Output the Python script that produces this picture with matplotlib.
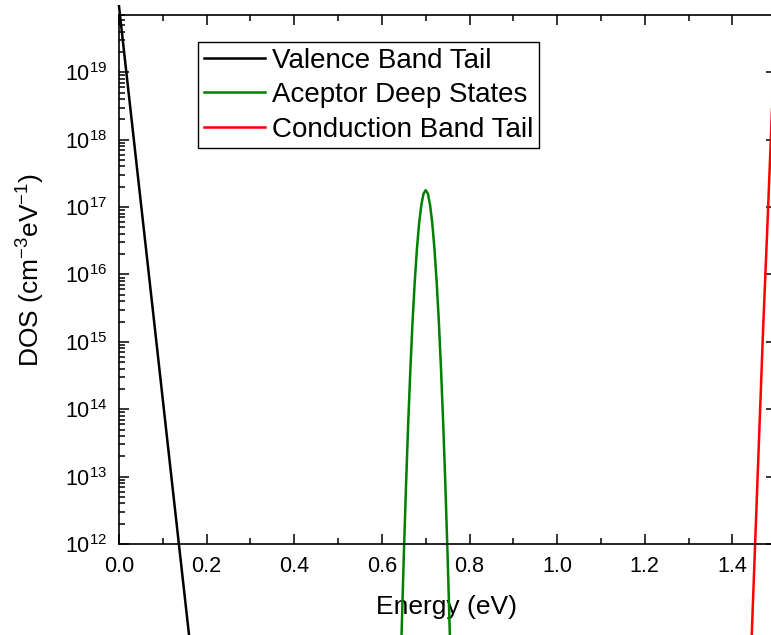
import matplotlib
matplotlib.use("Agg")
import matplotlib.pyplot as plt
from matplotlib.ticker import MultipleLocator, LogLocator, NullFormatter

plt.rcParams['font.family'] = ['Liberation Sans', 'DejaVu Sans']
plt.rcParams['mathtext.fontset'] = 'custom'
plt.rcParams['mathtext.rm'] = 'Liberation Sans'
plt.rcParams['mathtext.it'] = 'Liberation Sans:italic'
plt.rcParams['mathtext.bf'] = 'Liberation Sans:bold'

# ---- data ----
vb_energy = [0.00, 0.04, 0.08, 0.12, 0.16, 0.18]
vb_dos = [9.55e19, 4.37e17, 2.04e15, 9.33e12, 4.37e10, 2.95e9]

ad_energy = [0.640, 0.645, 0.650, 0.655, 0.660, 0.665, 0.670, 0.675, 0.680,
             0.685, 0.690, 0.695, 0.700, 0.705, 0.710, 0.715, 0.720, 0.725,
             0.730, 0.735, 0.740, 0.745, 0.750, 0.755, 0.760]
ad_dos = [2.69e9, 4.79e10, 6.61e11, 7.08e12, 6.03e13, 3.89e14, 2.00e15,
          7.76e15, 2.40e16, 5.75e16, 1.07e17, 1.58e17, 1.78e17, 1.58e17,
          1.07e17, 5.75e16, 2.40e16, 7.76e15, 2.00e15, 3.89e14, 6.03e13,
          7.08e12, 6.61e11, 4.79e10, 2.69e9]

cb_energy = [1.44, 1.45, 1.46, 1.47, 1.48, 1.49, 1.50]
cb_dos = [8.32e9, 4.68e11, 2.63e13, 1.48e15, 5.5e16, 2.4e18, 1.1e20]

series_labels = ['Valence Band Tail', 'Aceptor Deep States', 'Conduction Band Tail']
series_colors = ['#000000', '#008000', '#FF0000']

x_ticks = [0.0, 0.2, 0.4, 0.6, 0.8, 1.0, 1.2, 1.4]
x_tick_labels = ['0.0', '0.2', '0.4', '0.6', '0.8', '1.0', '1.2', '1.4']
y_tick_exponents = [12, 13, 14, 15, 16, 17, 18, 19]

# ---- figure ----
fig = plt.figure(figsize=(7.71, 6.35), dpi=100)
ax = fig.add_axes([0.15435, 0.14331, 0.8524, 0.83307])

for xs, ys, lab, col in zip([vb_energy, ad_energy, cb_energy],
                            [vb_dos, ad_dos, cb_dos],
                            series_labels, series_colors):
    ax.plot(xs, ys, color=col, lw=1.8, label=lab, clip_on=False)

ax.set_yscale('log')
ax.set_xlim(0, 1.5)
ax.set_ylim(1e12, 10**19.85)

ax.set_xticks(x_ticks)
ax.set_xticklabels(x_tick_labels)
ax.xaxis.set_minor_locator(MultipleLocator(0.1))
yt = [10.0 ** e for e in y_tick_exponents]
ax.set_yticks(yt)
ax.set_yticklabels([r'$\mathregular{10^{%d}}$' % e for e in y_tick_exponents])
ax.yaxis.set_minor_locator(LogLocator(base=10, subs=range(2, 10), numticks=20))
ax.yaxis.set_minor_formatter(NullFormatter())

ax.tick_params(which='both', direction='in', top=True, right=True, width=1.1)
ax.tick_params(which='major', length=7, labelsize=15.5, pad=8.5)
ax.tick_params(which='minor', length=4)
ax.tick_params(axis='y', which='minor', right=False)
for sp in ax.spines.values():
    sp.set_linewidth(1.2)

ax.set_xlabel('Energy (eV)', fontsize=19, va='center')
ax.xaxis.set_label_coords(0.4989, -0.119)
ax.set_ylabel(r'DOS (cm$^{\mathregular{-3}}$eV$^{\mathregular{-1}}$)', fontsize=19, va='center')
ax.yaxis.set_label_coords(-0.134, 0.518)

leg = ax.legend(loc='upper left', bbox_to_anchor=(198 / 771, 1 - 42 / 635),
                bbox_transform=fig.transFigure, fontsize=20, frameon=True,
                fancybox=False, framealpha=1, edgecolor='black',
                handlelength=2.2, handletextpad=0.25, labelspacing=0.31,
                borderpad=0.2, borderaxespad=0)
leg.get_frame().set_linewidth(1.0)
for h in leg.get_lines():
    h.set_linewidth(1.8)

fig.savefig('out.png', dpi=100)
